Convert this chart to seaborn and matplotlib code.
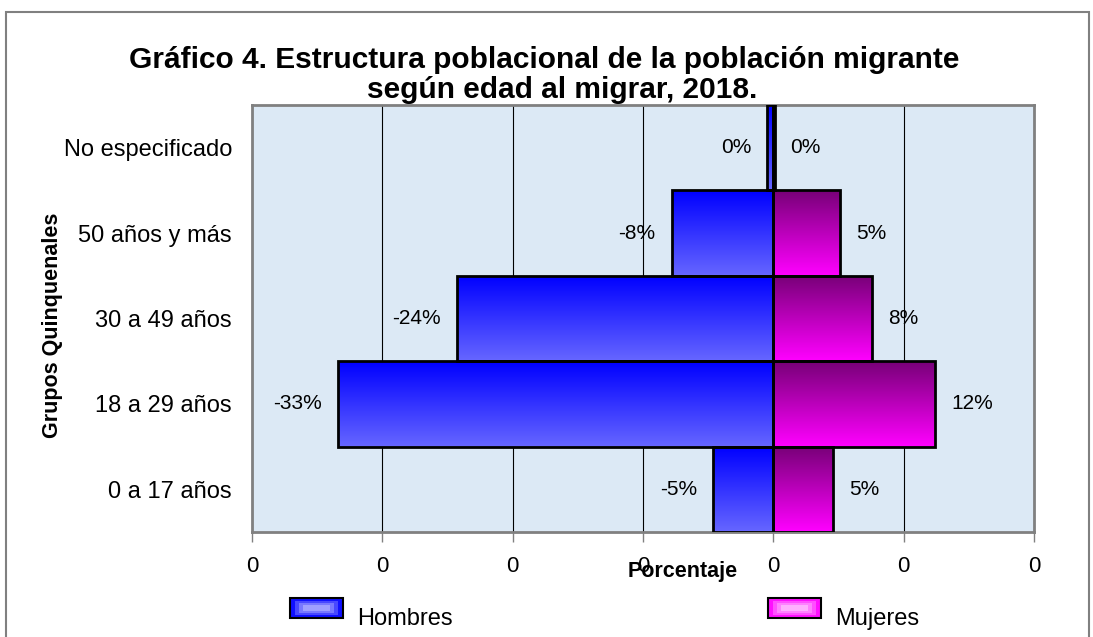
import numpy as np
import pandas as pd
import matplotlib.pyplot as plt
import seaborn as sns
from matplotlib.colors import to_rgb
from matplotlib.patches import Rectangle
from matplotlib.ticker import FuncFormatter, MultipleLocator

# Data (shares of migrant population)
groups = ["No especificado", "50 años y más", "30 a 49 años", "18 a 29 años", "0 a 17 años"]
hombres = [-0.0045, -0.078, -0.243, -0.334, -0.046]
mujeres = [0.001, 0.051, 0.076, 0.124, 0.046]
series = ["Hombres", "Mujeres"]

sns.set_theme(style="white")
plt.rcParams["font.family"] = ["Liberation Sans", "DejaVu Sans"]
plt.rcParams["text.color"] = "black"

df = pd.DataFrame({
    "grupo": groups * 2,
    "sexo": ["Hombres"] * len(groups) + ["Mujeres"] * len(groups),
    "valor": hombres + mujeres,
})

W, H = 1093, 637
fig = plt.figure(figsize=(W / 100, H / 100), dpi=100)
ax = fig.add_axes([252 / W, 1 - 532 / H, 782 / W, 427 / H])
ax.set_facecolor("#dce9f5")

sns.barplot(data=df, x="valor", y="grupo", hue="sexo", order=groups,
            hue_order=series, orient="h", dodge=False, width=1.0,
            palette=["#3030ff", "#c000c0"], legend=False, ax=ax)

# vertical gradient fill for each bar
grads = {"Hombres": ("#0000ff", "#6666ff"), "Mujeres": ("#780078", "#ff00ff")}
ramp = np.linspace(0, 1, 64)[:, None, None]
bars = list(ax.patches)
for i, bar in enumerate(bars):
    top_c, bot_c = grads[series[i // len(groups)]]
    img = (1 - ramp) * np.array(to_rgb(top_c)) + ramp * np.array(to_rgb(bot_c))
    x0, w = bar.get_x(), bar.get_width()
    y0, h = bar.get_y(), bar.get_height()
    im = ax.imshow(img, extent=(min(x0, x0 + w), max(x0, x0 + w), y0 + h, y0),
                   aspect="auto", origin="upper", zorder=2, interpolation="bilinear")
    im.set_clip_path(bar)
    bar.set_facecolor("none")
    bar.set_edgecolor("black")
    bar.set_linewidth(2)
    bar.set_zorder(3)

ax.set_xlim(-0.4, 0.2)
ax.set_ylim(len(groups) - 0.5, -0.5)

# data labels
for yi, (h_val, m_val) in enumerate(zip(hombres, mujeres)):
    ax.annotate(f"{round(h_val * 100):.0f}%", xy=(h_val, yi), xytext=(-11.5, 0),
                textcoords="offset points", ha="right", va="center", fontsize=15, zorder=4)
    ax.annotate(f"{round(m_val * 100):.0f}%", xy=(m_val, yi), xytext=(11.5, 0),
                textcoords="offset points", ha="left", va="center", fontsize=15, zorder=4)

ax.xaxis.set_major_locator(MultipleLocator(0.1))
ax.xaxis.set_major_formatter(FuncFormatter(lambda v, p: f"{abs(v):.0f}"))
ax.grid(axis="x", color="black", lw=0.8)
ax.grid(axis="y", visible=False)
ax.set_axisbelow(True)
for s in ax.spines.values():
    s.set_visible(True)
    s.set_color("#808080")
    s.set_linewidth(2)
ax.tick_params(axis="x", bottom=True, length=7, width=1, color="#808080",
               labelcolor="black", direction="out", labelsize=16, pad=10)
ax.tick_params(axis="y", left=False, length=0, pad=14.4, labelsize=17, labelcolor="black")
ax.set_xlabel("")
ax.set_ylabel("")

fig.text(683 / W, 1 - 572 / H, "Porcentaje", ha="center", va="center",
         fontsize=15.5, fontweight="bold")
fig.text(53 / W, 1 - 325 / H, "Grupos Quinquenales", rotation=90, ha="center",
         va="center", fontsize=15.5, fontweight="bold")

# title
fig.text(544 / W, 1 - 68 / H, "Gráfico 4. Estructura poblacional de la población migrante",
         ha="center", va="baseline", fontsize=21.5, fontweight="bold")
fig.text(562 / W, 1 - 98 / H, "según edad al migrar, 2018.",
         ha="center", va="baseline", fontsize=21.5, fontweight="bold")

# legend
legend_items = [
    ("Hombres", 290, ["#1010ff", "#4848ff", "#7878ff", "#a0a0ff"]),
    ("Mujeres", 768, ["#ff10ff", "#ff50ff", "#ff80ff", "#ffb0ff"]),
]
for name, lx, cols in legend_items:
    for k, c in enumerate(cols):
        inset = [0, 3, 5, 7][k]
        fig.add_artist(Rectangle(((lx + inset * 1.8) / W, 1 - (618 - inset) / H),
                                 (53 - 3.6 * inset) / W, (20 - 2 * inset) / H,
                                 transform=fig.transFigure, facecolor=c,
                                 edgecolor="black" if k == 0 else "none",
                                 lw=1.5 if k == 0 else 0))
    fig.text((lx + 67) / W, 1 - 625 / H, name, ha="left", va="baseline", fontsize=17)

# chart frame
fig.add_artist(Rectangle((6 / W, -0.1), 1083 / W, 1.1 - 12 / H, transform=fig.transFigure,
                         fill=False, edgecolor="#808080", lw=1.5))

fig.savefig("out.png", dpi=100)
